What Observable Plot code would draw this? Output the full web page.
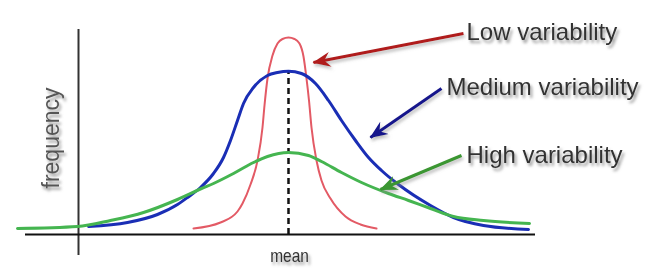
<!DOCTYPE html>
<html>
<head>
<meta charset="utf-8">
<script src="https://cdn.jsdelivr.net/npm/d3@7"></script>
<script src="https://cdn.jsdelivr.net/npm/@observablehq/plot@0.6"></script>
<style>
  html, body { margin: 0; padding: 0; background: #fff; }
</style>
</head>
<body>
<div id="chart"></div>
<script>
// Curves: x = distance from the mean, y = frequency
const lowX  = [-9.5,-6.8,-5.1,-4.6,-3.8,-3.1,-2.6,-2.4,-2.1,-1.6,-1.1,-0.6,0,0.6,1.1,1.5,1.8,2.05,2.3,2.8,3.3,4.2,5.7,7.2,8.8];
const lowY  = [6,12,23,31,50,74,107,129,156,179,191,195.5,197,195.5,191,178,156,134,107,74,54,36,18,10,6];

const medX  = [-20,-16.1,-13.1,-11.1,-10.1,-8.8,-7.5,-6.5,-5.8,-5.1,-4.5,-3.5,-2.1,-1.1,0,1.3,2.7,4,5.3,6.7,8,9.3,11,14.2,16.5,19.5,24];
const medY  = [8,12,20,30,37,47,61,77,94,114,131,147,159,162,163.3,161,151,134,114,94,77,64,50,29,17,9,5];

const highX = [-27.1,-21.1,-17.8,-14.5,-11.1,-8.7,-7.5,-5.5,-3.5,-2.1,0,2,3.3,5.3,7.3,10,12,14.2,16.5,19.5,24.1];
const highY = [6,8,14,22,35,46,51,61,72,78,82,79,73,62,52,41,34,26,18,14,11];

const seriesNames  = ["Low variability", "Medium variability", "High variability"];
const curveColors  = ["#e35a65", "#1a2eb5", "#45b550"];
const curveWidths  = [2, 3, 3];
const arrowColors  = ["#b01e1e", "#16168c", "#3a9630"];
// label anchor (x, baseline y) and arrow from/to, in data units
const labelX   = [17.8, 15.8, 17.8];
const labelY   = [194.5, 140, 72];
const arrowX1  = [17.5, 15.3, 17.3];
const arrowY1  = [201, 146, 79];
const arrowX2  = [2.5, 8.2, 9.2];
const arrowY2  = [172, 97, 45];

const meanPeak = 163.3;
const axisX = -21, axisTop = 205, axisBottom = -21;
const baseLeft = -26.3, baseRight = 24.7;

const toRows = (xs, ys) => xs.map((x, i) => ({x, y: ys[i]}));
const curveData = [toRows(lowX, lowY), toRows(medX, medY), toRows(highX, highY)];
const labels = seriesNames.map((name, i) => ({name, x: labelX[i], y: labelY[i]}));
const arrows = seriesNames.map((name, i) => ({name, x1: arrowX1[i], y1: arrowY1[i], x2: arrowX2[i], y2: arrowY2[i], c: arrowColors[i]}));

const plot = Plot.plot({
  width: 652,
  height: 270,
  marginTop: 0, marginRight: 0, marginLeft: 0, marginBottom: 36,
  x: {domain: [-28.8, 36.4], axis: null},
  y: {domain: [0, 234], axis: null},
  style: {fontFamily: "'Liberation Sans', Arial, sans-serif", background: "#fff"},
  marks: [
    Plot.ruleX([axisX], {y1: axisBottom, y2: axisTop, stroke: "#333", strokeWidth: 2}),
    Plot.ruleY([0], {x1: baseLeft, x2: baseRight, stroke: "#111", strokeWidth: 2}),
    Plot.ruleX([0], {y1: 0, y2: meanPeak, stroke: "#111", strokeWidth: 2.5, strokeDasharray: "6,4"}),
    ...curveData.map((rows, i) =>
      Plot.line(rows, {x: "x", y: "y", stroke: curveColors[i], strokeWidth: curveWidths[i], curve: "monotone-x"})),
    Plot.link(arrows, {x1: "x1", y1: "y1", x2: "x2", y2: "y2", stroke: "c", strokeWidth: 3, strokeLinecap: "butt"}),
    Plot.text(labels, {x: "x", y: "y", text: "name", textAnchor: "start", lineAnchor: "bottom", fontSize: 24, fill: "#333"}),
    Plot.text(["mean"], {x: 0.1, y: -27, text: d => d, textAnchor: "middle", lineAnchor: "bottom", fontSize: 18, fill: "#333"}),
    Plot.text(["frequency"], {x: -23, y: 96.5, text: d => d, rotate: -90, textAnchor: "middle", lineAnchor: "bottom", fontSize: 23, fill: "#555"})
  ]
});

const ns = "http://www.w3.org/2000/svg";
const defs = document.createElementNS(ns, "defs");
let markers = arrowColors.map((c, i) =>
  `<marker id="ah${i}" markerUnits="userSpaceOnUse" viewBox="0 0 18 16" markerWidth="18" markerHeight="16" refX="17" refY="8" orient="auto">` +
  `<path d="M18,8 L0,0.5 L6,8 L0,15.5 Z" fill="${c}"/></marker>`).join("");
defs.innerHTML =
  '<filter id="sh" x="-20%" y="-60%" width="140%" height="220%"><feDropShadow dx="2" dy="3" stdDeviation="1.6" flood-color="#777" flood-opacity="0.75"/></filter>' +
  '<filter id="sh2" x="-20%" y="-60%" width="140%" height="220%"><feDropShadow dx="1.5" dy="2.5" stdDeviation="1.5" flood-color="#888" flood-opacity="0.55"/></filter>' +
  markers;
plot.insertBefore(defs, plot.firstChild);
plot.querySelectorAll('g[aria-label="text"]').forEach(g => g.setAttribute("filter", "url(#sh)"));
const linkG = plot.querySelector('g[aria-label="link"]');
if (linkG) {
  linkG.setAttribute("filter", "url(#sh2)");
  linkG.querySelectorAll("path").forEach((p, i) => p.setAttribute("marker-end", `url(#ah${i})`));
}
plot.querySelectorAll("text").forEach(t => {
  if (t.textContent === "mean") {
    const tr = t.getAttribute("transform") || "";
    t.setAttribute("transform", tr + " scale(0.86,1)");
  }
});

document.getElementById("chart").appendChild(plot);
</script>
</body>
</html>
